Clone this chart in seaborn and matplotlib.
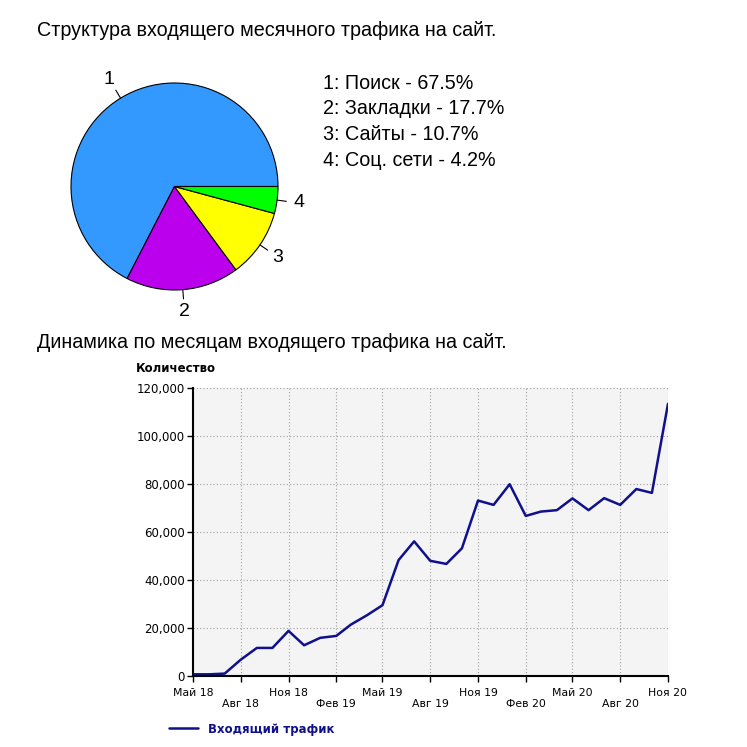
import numpy as np
import pandas as pd
import matplotlib
matplotlib.use('Agg')
import matplotlib.pyplot as plt
import seaborn as sns

# structure of incoming traffic
sources = ['Поиск', 'Закладки', 'Сайты', 'Соц. сети']
shares = [67.5, 17.7, 10.7, 4.2]
pie_colors = ['#3399ff', '#bb00ee', '#ffff00', '#00ff00']

# monthly incoming traffic, May 2018 - Nov 2020
months = pd.date_range('2018-05-01', periods=31, freq='MS')
traffic = [700, 700, 1000, 6800, 11700, 11700, 18800, 12800, 15900, 16700,
           21400, 25300, 29500, 48300, 56100, 48000, 46700, 53200, 73100, 71300,
           79900, 66700, 68500, 69100, 74000, 69100, 74100, 71300, 77900, 76300,
           113400]
tick_labels = ['Май 18', 'Авг 18', 'Ноя 18', 'Фев 19', 'Май 19', 'Авг 19',
               'Ноя 19', 'Фев 20', 'Май 20', 'Авг 20', 'Ноя 20']
y_ticks = [0, 20000, 40000, 60000, 80000, 100000, 120000]

sns.set_style('white')
plt.rcParams['font.family'] = ['Liberation Sans', 'DejaVu Sans']
plt.rcParams['text.color'] = 'black'
plt.rcParams['xtick.color'] = 'black'
plt.rcParams['ytick.color'] = 'black'

W = 747
fig = plt.figure(figsize=(7.47, 7.47), dpi=100)


def box(left, top, width, height):
    return [left / W, 1 - (top + height) / W, width / W, height / W]


fig.text(37 / W, 1 - 30 / W, 'Структура входящего месячного трафика на сайт.',
         fontsize=14.2, va='center')

# pie
cx, cy, r, half = 174.5, 186.5, 103.5, 140
ax1 = fig.add_axes(box(cx - half, cy - half, 2 * half, 2 * half))
wedges, _ = ax1.pie(shares, colors=pie_colors, startangle=0, radius=1,
                    wedgeprops=dict(edgecolor='black', linewidth=0.8))
lim = half / r
ax1.set_xlim(-lim, lim)
ax1.set_ylim(-lim, lim)
ax1.set_aspect('equal')
for i, w in enumerate(wedges):
    a = np.deg2rad((w.theta1 + w.theta2) / 2)
    c, s = np.cos(a), np.sin(a)
    ax1.plot([c, 1.09 * c], [s, 1.09 * s], color='black', lw=0.8)
    ax1.text(1.21 * c, 1.21 * s, str(i + 1), ha='center', va='center', fontsize=14)
ax1.axis('off')

for i, (name, v) in enumerate(zip(sources, shares)):
    fig.text(323 / W, 1 - (83.3 + 25.6 * i) / W, f'{i + 1}: {name} - {v}%',
             fontsize=14.2, va='center')

fig.text(37 / W, 1 - 343 / W, 'Динамика по месяцам входящего трафика на сайт.',
         fontsize=14.2, va='center')

# line chart
df = pd.DataFrame({'month': months, 'traffic': traffic})
ax2 = fig.add_axes(box(193, 388, 475, 288))
sns.lineplot(data=df, x='month', y='traffic', ax=ax2, color='#10108c', lw=1.8,
             label='Входящий трафик')
ax2.set_facecolor('#f4f4f4')
ax2.set_axisbelow(True)
ax2.grid(True, color='#a0a0a0', linestyle=(0, (1, 2)), linewidth=0.8)
for sp in ['top', 'right']:
    ax2.spines[sp].set_visible(False)
for sp in ['left', 'bottom']:
    ax2.spines[sp].set_color('black')
    ax2.spines[sp].set_linewidth(1.5)
ax2.set_xlim(months[0], months[-1])
ax2.set_ylim(0, 120000)
ax2.set_xticks(months[::3])
ax2.set_xticklabels([t if i % 2 == 0 else '\n' + t for i, t in enumerate(tick_labels)],
                    family='DejaVu Sans', fontsize=7.8, linespacing=1.05)
ax2.set_yticks(y_ticks)
ax2.set_yticklabels([f'{v:,}' for v in y_ticks], family='DejaVu Sans', fontsize=8.5)
ax2.tick_params(axis='x', direction='out', length=4, width=1, color='black', pad=5,
                bottom=True)
ax2.tick_params(axis='y', direction='out', length=4, width=1, color='black', pad=2,
                left=True)
ax2.set_xlabel('')
ax2.set_ylabel('')

fig.text(136 / W, 1 - 369 / W, 'Количество', weight='bold', fontsize=8.5,
         family='DejaVu Sans', va='center')

ax2.legend(loc='center left', bbox_to_anchor=(158 / W, 1 - 729 / W),
           bbox_transform=fig.transFigure, frameon=False, handlelength=2.5,
           handletextpad=0.8, labelcolor='#10108c',
           prop=dict(family='DejaVu Sans', weight='bold', size=8.5))

fig.savefig('out.png', dpi=100)
